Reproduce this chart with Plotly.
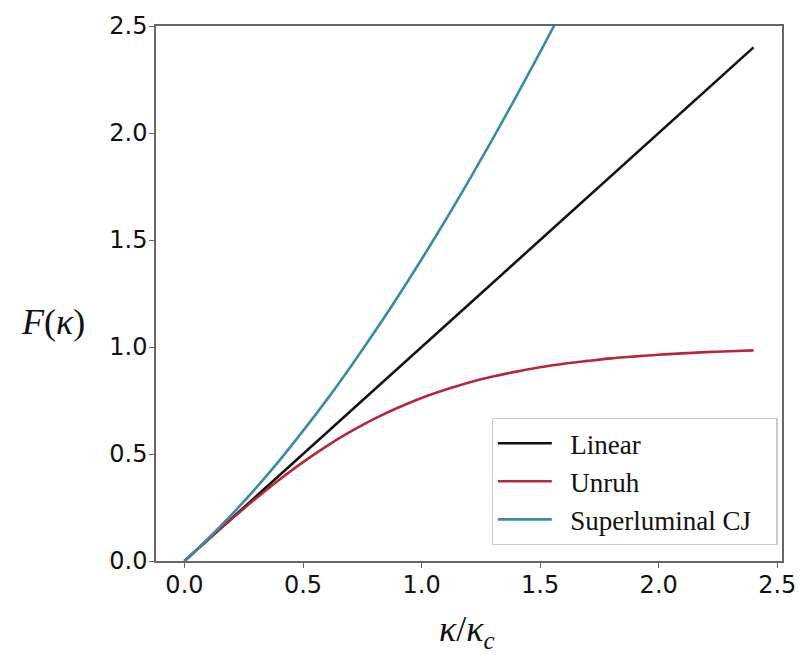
import plotly.graph_objects as go

# kappa / kappa_c sample points and the response function values of each model
kappa_linear = [0.0, 2.4]
F_linear = [0.0, 2.4]

kappa_unruh = [0.0, 0.1, 0.2, 0.3, 0.4, 0.5, 0.6, 0.7, 0.8, 0.9, 1.0, 1.1, 1.2,
               1.3, 1.4, 1.5, 1.6, 1.7, 1.8, 1.9, 2.0, 2.1, 2.2, 2.3, 2.4]
F_unruh = [0.0, 0.100, 0.197, 0.291, 0.380, 0.462, 0.537, 0.604, 0.664, 0.716,
           0.762, 0.800, 0.834, 0.862, 0.885, 0.905, 0.922, 0.935, 0.947, 0.956,
           0.964, 0.970, 0.976, 0.980, 0.984]

kappa_cj = [0.0, 0.1, 0.2, 0.3, 0.4, 0.5, 0.6, 0.7, 0.8, 0.9, 1.0, 1.1, 1.2,
            1.3, 1.4, 1.5, 1.6, 1.7]
F_cj = [0.0, 0.105, 0.218, 0.339, 0.469, 0.608, 0.753, 0.907, 1.068, 1.235,
        1.410, 1.591, 1.779, 1.973, 2.172, 2.378, 2.588, 2.804]

x_ticks = [0.0, 0.5, 1.0, 1.5, 2.0, 2.5]
y_ticks = [0.0, 0.5, 1.0, 1.5, 2.0, 2.5]

NB = "\u00a0"  # non-breaking space used to pad legend entries

fig = go.Figure()
fig.add_trace(go.Scatter(x=kappa_linear, y=F_linear, mode="lines",
                         name=NB * 2 + "Linear",
                         line=dict(color="#111111", width=2.6)))
fig.add_trace(go.Scatter(x=kappa_unruh, y=F_unruh, mode="lines",
                         name=NB * 2 + "Unruh",
                         line=dict(color="#b3283a", width=2.6, shape="spline")))
fig.add_trace(go.Scatter(x=kappa_cj, y=F_cj, mode="lines",
                         name=NB * 2 + "Superluminal CJ" + NB * 3,
                         line=dict(color="#3a8c9e", width=2.6, shape="spline")))

axis_common = dict(
    showline=True, linecolor="#666666", linewidth=1.5, mirror=True,
    ticks="outside", ticklen=5, tickwidth=1.3, tickcolor="#666666",
    showgrid=False, zeroline=False,
    tickfont=dict(family="DejaVu Sans", size=24, color="#111111"),
    tickformat=".1f",
)

fig.update_layout(
    width=808, height=655,
    margin=dict(l=156, r=18, t=17, b=94),
    paper_bgcolor="white", plot_bgcolor="white",
    xaxis=dict(range=[-0.12, 2.52], tickvals=x_ticks, ticklabelstandoff=-4,
               **axis_common),
    yaxis=dict(range=[0.0, 2.5], tickvals=y_ticks, ticklabelstandoff=-3,
               **axis_common),
    legend=dict(
        x=0.993, y=0.03, xanchor="right", yanchor="bottom",
        bgcolor="white", bordercolor="#cccccc", borderwidth=1.2,
        font=dict(family="Liberation Serif", size=27, color="#111111"),
        itemwidth=54, tracegroupgap=0,
    ),
    annotations=[
        dict(text="<i>F</i>(<i>κ</i>)", xref="paper", yref="paper",
             x=-0.164, y=0.447, xanchor="center", yanchor="middle", showarrow=False,
             font=dict(family="Liberation Serif", size=36, color="#111111")),
        dict(text="<i>κ</i>/<i>κ</i><sub><i>c</i></sub>", xref="paper", yref="paper",
             x=0.497, y=-0.132, xanchor="center", yanchor="middle", showarrow=False,
             font=dict(family="Liberation Serif", size=36, color="#111111")),
    ],
)

fig.write_html("out.html")
